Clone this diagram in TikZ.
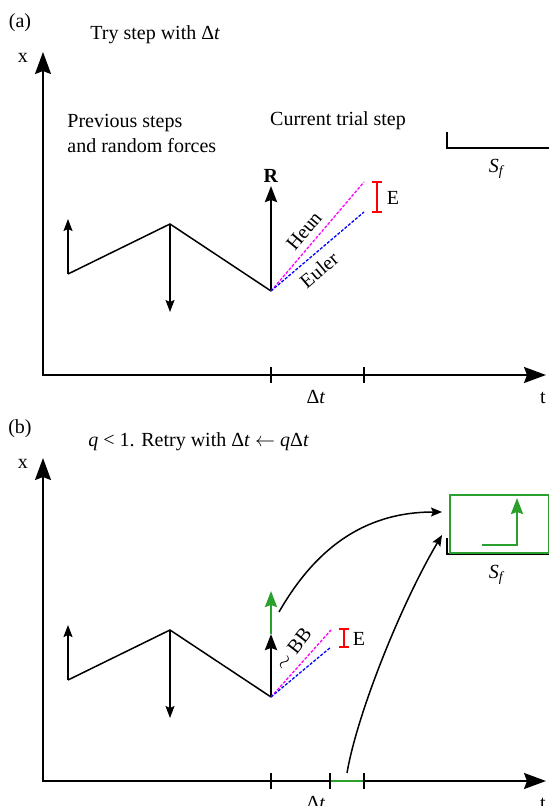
\documentclass[tikz,border=0pt]{standalone}
\usepackage{fontspec}
\setmainfont{Liberation Serif}
\usetikzlibrary{arrows.meta}
\definecolor{tabgreen}{RGB}{44,160,44}
\definecolor{heuncol}{RGB}{255,0,255}
\definecolor{eulercol}{RGB}{0,0,255}
\definecolor{errcol}{RGB}{255,0,0}
\tikzset{
  axisline/.style={line width=1pt, {Stealth[length=11pt,width=8pt,inset=1.5pt]}-{Stealth[length=11pt,width=8pt,inset=1.5pt]}},
  tickmark/.style={line width=1pt},
  zigline/.style={line width=0.75pt},
  forcearrow/.style={line width=0.75pt, -{Stealth[length=6pt,width=4.5pt,inset=1pt]}},
  rarrow/.style={line width=1.2pt, -{Stealth[length=8pt,width=6pt,inset=1pt]}},
  greenarrow/.style={line width=1.2pt, tabgreen, -{Stealth[length=8pt,width=6pt,inset=1pt]}},
  heunline/.style={heuncol, line width=0.65pt, dash pattern=on 1.5pt off 0.8pt},
  eulerline/.style={eulercol, line width=0.65pt, dash pattern=on 1.5pt off 0.8pt},
  errbar/.style={errcol, line width=0.8pt},
  bracket/.style={line width=0.8pt},
  curvearrow/.style={line width=0.75pt, -{Stealth[length=5.5pt,width=4.5pt,inset=1pt]}},
  lbl/.style={inner sep=0pt},
}
\begin{document}
\begin{tikzpicture}[x=0.5pt,y=-0.5pt,font=\fontsize{10}{12.5}\selectfont]
\useasboundingbox (0,0) rectangle (549,806);

% ================= panel (a) =================
\node[lbl] (la) at (20,23) {(a)};
\node[lbl, anchor=west] (titlea) at (90,35) {Try step with Δ\textit{t}};
\node[lbl] (xa) at (23,58) {x};
\coordinate (aY) at (43,52);
\coordinate (aO) at (43,375);
\coordinate (aX) at (546,375);
\draw[axisline] (aY) -- (aO) -- (aX);
\node[lbl] (ta) at (543,398) {t};
\coordinate (aT1) at (271,375);
\coordinate (aT2) at (364,375);
\draw[tickmark] (aT1) ++(0,-8) -- ++(0,16);
\draw[tickmark] (aT2) ++(0,-8) -- ++(0,16);
\node[lbl] (dta) at (316,397) {Δ\textit{t}};

\node[lbl, anchor=west, align=left] (prev) at (67,133) {Previous steps\\and random forces};
\node[lbl] (curr) at (338,121) {Current trial step};

\coordinate (aS1) at (447,132);
\coordinate (aS2) at (447,148);
\coordinate (aS3) at (551,148);
\draw[bracket] (aS1) -- (aS2) -- (aS3);
\node[lbl] (sfa) at (497,169) {\textit{S}\textsubscript{\textit{f}}};

\coordinate (aP0) at (68,274);
\coordinate (aP1) at (170,224);
\coordinate (aP2) at (271,291);
\coordinate (aU) at (68,219);
\coordinate (aD) at (170,312);
\coordinate (aR) at (271,186);
\draw[zigline] (aP0) -- (aP1) -- (aP2);
\draw[forcearrow] (aP0) -- (aU);
\draw[forcearrow] (aP1) -- (aD);
\draw[rarrow] (aP2) -- (aR);
\node[lbl] (ra) at (271,176) {\textbf{R}};

\coordinate (aH) at (364,182);
\coordinate (aE) at (364,212);
\draw[heunline] (aP2) -- (aH);
\draw[eulerline] (aP2) -- (aE);
\node[lbl, rotate=50] (heun) at (304,231) {Heun};
\node[lbl, rotate=40] (euler) at (319,270) {Euler};
\coordinate (aEb1) at (377,182);
\coordinate (aEb2) at (377,212);
\draw[errbar] (aEb1) -- (aEb2);
\draw[errbar] (aEb1) ++(-5,0) -- ++(10,0);
\draw[errbar] (aEb2) ++(-5,0) -- ++(10,0);
\node[lbl] (ea) at (393,198) {E};

% ================= panel (b) =================
\node[lbl] (lb) at (20,429) {(b)};
\node[lbl, anchor=west] (titleb) at (88,442) {\textit{q} < 1. Retry with Δ\textit{t} $\leftarrow$ \textit{q}Δ\textit{t}};
\node[lbl] (xb) at (23,464) {x};
\coordinate (bY) at (43,458);
\coordinate (bO) at (43,781);
\coordinate (bX) at (546,781);
\draw[axisline] (bY) -- (bO) -- (bX);
\node[lbl] (tb) at (543,804) {t};
\coordinate (bT1) at (271,781);
\coordinate (bT2) at (330,781);
\coordinate (bT3) at (364,781);
\draw[line width=1.2pt, tabgreen] (bT2) -- (bT3);
\draw[tickmark] (bT1) ++(0,-8) -- ++(0,16);
\draw[tickmark] (bT2) ++(0,-8) -- ++(0,16);
\draw[tickmark] (bT3) ++(0,-8) -- ++(0,16);
\node[lbl] (dtb) at (316,803) {Δ\textit{t}};

\coordinate (bS1) at (447,538);
\coordinate (bS2) at (447,554);
\coordinate (bS3) at (551,554);
\draw[bracket] (bS1) -- (bS2) -- (bS3);
\node[draw=tabgreen, line width=0.75pt, fill=white, minimum width=49.5pt, minimum height=29pt, inner sep=0pt, anchor=north west] (box) at (449,494) {};
\coordinate (gL0) at (482,545);
\coordinate (gL1) at (517,545);
\coordinate (gL2) at (517,498);
\draw[line width=1.2pt, tabgreen, -{Stealth[length=8pt,width=6pt,inset=1pt]}] (gL0) -- (gL1) -- (gL2);
\node[lbl] (sfb) at (497,575) {\textit{S}\textsubscript{\textit{f}}};

\coordinate (bP0) at (68,680);
\coordinate (bP1) at (170,630);
\coordinate (bP2) at (271,697);
\coordinate (bU) at (68,625);
\coordinate (bD) at (170,718);
\coordinate (bR) at (271,634);
\coordinate (bG) at (271,591);
\draw[zigline] (bP0) -- (bP1) -- (bP2);
\draw[forcearrow] (bP0) -- (bU);
\draw[forcearrow] (bP1) -- (bD);
\draw[greenarrow] (bR) -- (bG);
\draw[rarrow] (bP2) -- (bR);

\coordinate (bH) at (331,630);
\coordinate (bE) at (331,647);
\draw[heunline] (bP2) -- (bH);
\draw[eulerline] (bP2) -- (bE);
\node[lbl, rotate=52] (bb) at (293,649) {$\sim$ BB};
\coordinate (bEb1) at (344,629);
\coordinate (bEb2) at (344,647);
\draw[errbar] (bEb1) -- (bEb2);
\draw[errbar] (bEb1) ++(-5,0) -- ++(10,0);
\draw[errbar] (bEb2) ++(-5,0) -- ++(10,0);
\node[lbl] (eb) at (359,639) {E};

\coordinate (c1s) at (279,612);
\coordinate (c1e) at (442,512);
\draw[curvearrow] (c1s) .. controls (314,551) and (362,512) .. (c1e);
\coordinate (c2s) at (347,773);
\coordinate (c2e) at (442,535);
\draw[curvearrow] (c2s) .. controls (357,714) and (401,604) .. (c2e);
\end{tikzpicture}
\end{document}
